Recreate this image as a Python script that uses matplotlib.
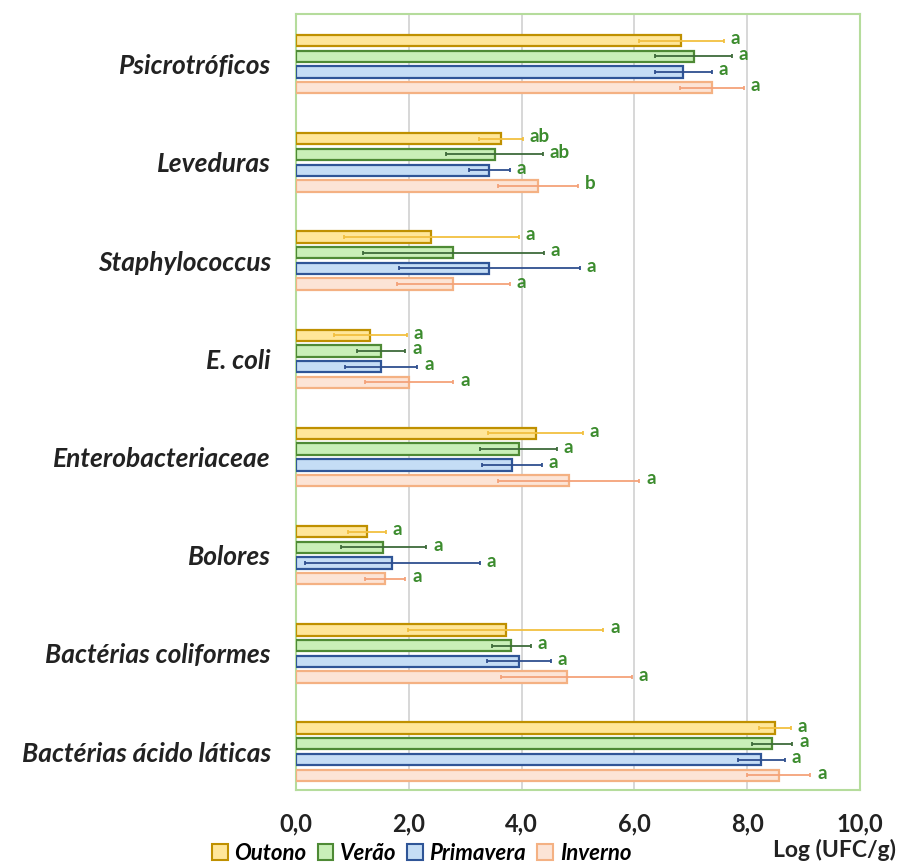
import numpy as np
import matplotlib.pyplot as plt
from matplotlib.patches import Patch

# dados (Log UFC/g)
categorias = ['Psicrotróficos', 'Leveduras', 'Staphylococcus', 'E. coli',
              'Enterobacteriaceae', 'Bolores', 'Bactérias coliformes',
              'Bactérias ácido láticas']
estacoes = ['Outono', 'Verão', 'Primavera', 'Inverno']

outono = [6.83, 3.63, 2.40, 1.32, 4.25, 1.26, 3.72, 8.49]
verao = [7.05, 3.52, 2.79, 1.51, 3.95, 1.55, 3.82, 8.44]
primavera = [6.87, 3.43, 3.43, 1.51, 3.83, 1.71, 3.95, 8.25]
inverno = [7.37, 4.29, 2.79, 2.01, 4.84, 1.58, 4.80, 8.56]

err_outono = [0.75, 0.39, 1.55, 0.65, 0.84, 0.34, 1.73, 0.28]
err_verao = [0.68, 0.86, 1.60, 0.43, 0.68, 0.76, 0.35, 0.36]
err_primavera = [0.50, 0.36, 1.60, 0.64, 0.53, 1.55, 0.57, 0.42]
err_inverno = [0.57, 0.71, 1.00, 0.78, 1.25, 0.36, 1.16, 0.56]

let_outono = ['a', 'ab', 'a', 'a', 'a', 'a', 'a', 'a']
let_verao = ['a', 'ab', 'a', 'a', 'a', 'a', 'a', 'a']
let_primavera = ['a', 'a', 'a', 'a', 'a', 'a', 'a', 'a']
let_inverno = ['a', 'b', 'a', 'a', 'a', 'a', 'a', 'a']

valores = [outono, verao, primavera, inverno]
erros = [err_outono, err_verao, err_primavera, err_inverno]
letras = [let_outono, let_verao, let_primavera, let_inverno]

cor_fundo = ['#FFE699', '#C9EFB8', '#C5DDF5', '#FCE4D6']
cor_borda = ['#BF9000', '#4E8A35', '#2F5597', '#F4B183']
cor_erro = ['#F2C040', '#3E6B3A', '#2F4F8F', '#F4A27A']
cor_letra = '#3C8C2E'

plt.rcParams['font.family'] = ['Lato', 'DejaVu Sans']

fig = plt.figure(figsize=(9.01, 8.63), dpi=100)
ax = fig.add_axes([0.3285, 0.0846, 0.626, 0.8992])

n = len(categorias)
centros = np.arange(n)[::-1].astype(float)
offsets = [-0.24, -0.08, 0.08, 0.24]
altura = 0.115

for i in range(4):
    y = centros - offsets[i]
    ax.barh(y, valores[i], height=altura, color=cor_fundo[i],
            edgecolor=cor_borda[i], linewidth=1.6, zorder=3)
    ax.errorbar(valores[i], y, xerr=erros[i], fmt='none', ecolor=cor_erro[i],
                elinewidth=1.3, capsize=1.5, capthick=1.3, zorder=4)
    for v, e, yy, l in zip(valores[i], erros[i], y, letras[i]):
        ax.text(v + e + 0.12, yy + 0.02, l, color=cor_letra, fontsize=13.5,
                fontweight='bold', va='center', ha='left', zorder=5)

ax.set_xlim(0, 10)
ax.set_ylim(-0.39, n - 1 + 0.51)
ax.set_xticks([0, 2, 4, 6, 8, 10])
ax.set_xticklabels(['0,0', '2,0', '4,0', '6,0', '8,0', '10,0'],
                   fontsize=17, fontweight='bold', color='#222222')
ax.set_yticks(centros)
ax.set_yticklabels(categorias, fontsize=19, fontweight='bold',
                   fontstyle='italic', color='#222222')
ax.tick_params(axis='x', length=0, pad=16)
ax.tick_params(axis='y', length=0, pad=18)
ax.grid(axis='x', color='#d4d4d4', linewidth=1.3, zorder=0)
for s in ax.spines.values():
    s.set_color('#B5DC9C')
    s.set_linewidth(1.5)

handles = [Patch(facecolor=cor_fundo[i], edgecolor=cor_borda[i], linewidth=1.5)
           for i in range(4)]
fig.legend(handles, estacoes, loc='center', bbox_to_anchor=(0.468, 0.011),
           ncol=4, frameon=False, handlelength=0.7, handleheight=0.7,
           handletextpad=0.3, columnspacing=0.5,
           prop={'size': 16, 'weight': 'bold', 'style': 'italic'})
fig.text(0.926, 0.015, 'Log (UFC/g)', ha='center', va='center',
         fontsize=16.5, fontweight='bold', color='#222222')

fig.savefig('out.png', dpi=100)
